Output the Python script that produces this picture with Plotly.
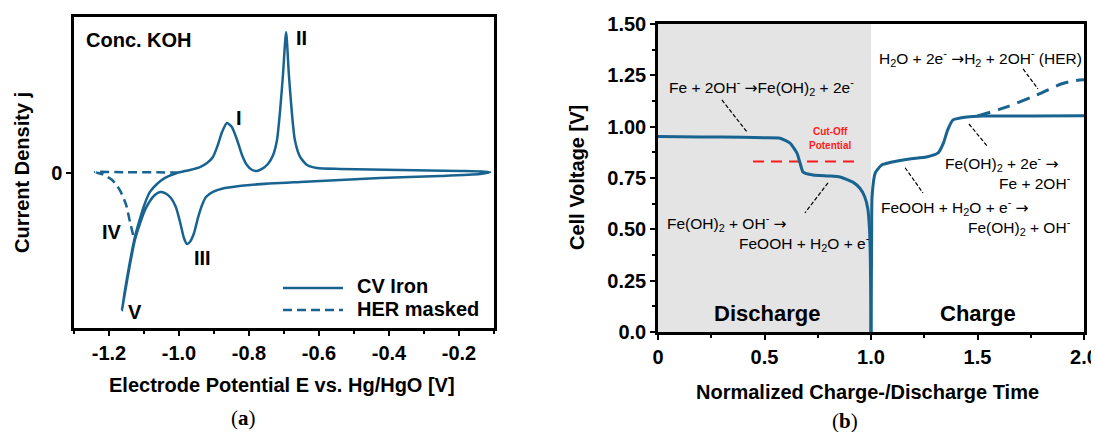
import plotly.graph_objects as go

# ---------------- (a) cyclic voltammogram ----------------
# closed loop: anodic branch from V to the right tip, cathodic branch back to V
cv_potential = [-1.163, -1.146, -1.126, -1.111, -1.097, -1.083, -1.063, -1.040, -1.006,
                -0.969, -0.940, -0.920, -0.903, -0.889, -0.877, -0.863, -0.849, -0.834,
                -0.820, -0.806, -0.791, -0.777, -0.763, -0.746, -0.731, -0.720, -0.711,
                -0.703, -0.694, -0.686, -0.677, -0.669, -0.654, -0.634, -0.606, -0.540,
                -0.369, -0.197, -0.111,
                -0.140, -0.254, -0.426, -0.654, -0.797, -0.869, -0.903, -0.923, -0.934,
                -0.946, -0.957, -0.969, -0.977, -0.986, -0.997, -1.009, -1.023, -1.040,
                -1.054, -1.069, -1.083, -1.097, -1.111, -1.126, -1.143, -1.163]
cv_current = [-0.884, -0.646, -0.415, -0.293, -0.196, -0.125, -0.074, -0.035, -0.003,
              0.016, 0.035, 0.061, 0.100, 0.177, 0.260, 0.318, 0.293, 0.209,
              0.113, 0.048, 0.016, 0.010, 0.023, 0.055, 0.113, 0.209, 0.402,
              0.627, 0.904, 0.627, 0.370, 0.209, 0.100, 0.048, 0.029, 0.023,
              0.016, 0.010, 0.003,
              -0.010, -0.023, -0.035, -0.061, -0.080, -0.100, -0.125, -0.158, -0.209,
              -0.293, -0.389, -0.447, -0.460, -0.421, -0.318, -0.222, -0.164, -0.132,
              -0.125, -0.145, -0.183, -0.241, -0.325, -0.434, -0.627, -0.884]

her_potential = [-1.131, -1.140, -1.151, -1.169, -1.191, -1.220, -1.240, -1.150, -1.060, -1.006]
her_current = [-0.402, -0.318, -0.209, -0.113, -0.048, -0.010, 0.003, 0.002, 0.001, 0.0]

cv_xticks = [-1.2, -1.0, -0.8, -0.6, -0.4, -0.2]

# ---------------- (b) charge / discharge ----------------
discharge_time = [0.0, 0.2, 0.4, 0.5, 0.573, 0.62, 0.652, 0.667, 0.681, 0.728, 0.80,
                  0.854, 0.915, 0.948, 0.970, 0.985, 0.993, 0.997, 0.999, 1.0]
discharge_voltage = [0.952, 0.950, 0.948, 0.946, 0.944, 0.92, 0.872, 0.823, 0.779, 0.765,
                     0.760, 0.755, 0.73, 0.70, 0.66, 0.60, 0.50, 0.35, 0.15, 0.0]

charge_time = [1.0, 1.003, 1.005, 1.02, 1.05, 1.10, 1.18, 1.26, 1.315, 1.34, 1.36, 1.385,
               1.45, 1.525, 1.75, 2.0]
charge_voltage = [0.0, 0.45, 0.66, 0.775, 0.813, 0.828, 0.843, 0.852, 0.872, 0.92, 0.984,
                  1.033, 1.047, 1.052, 1.052, 1.053]

her_time = [1.50, 1.62, 1.78, 1.90, 1.98, 2.0]
her_voltage = [1.052, 1.09, 1.155, 1.21, 1.227, 1.228]

cutoff_time = [0.446, 0.934]
cutoff_voltage = [0.83, 0.83]

discharge_region = [0.0, 1.0]
time_ticks = [0, 0.5, 1.0, 1.5, 2.0]
time_ticktext = ["0", "0.5", "1.0", "1.5", "2.0"]
volt_ticks = [0, 0.25, 0.5, 0.75, 1.0, 1.25, 1.5]
volt_ticktext = ["0.0", "0.25", "0.50", "0.75", "1.00", "1.25", "1.50"]

# leader lines (start, end) for the reaction labels
leaders = [
    ([0.30, 0.418], [1.13, 0.974]),
    ([0.798, 0.690], [0.726, 0.58]),
    ([1.714, 1.784], [1.281, 1.184]),
    ([1.46, 1.549], [1.013, 0.901]),
    ([1.16, 1.244], [0.80, 0.677]),
]

BLUE = "#18638f"
FONT = "Liberation Sans, Arial, sans-serif"
ARROW = '<span style="font-family:DejaVu Sans">→</span>'

# the page body has an 8px margin, so the figure is 8px smaller than the window
OFF = 8
W, H = 1099 - OFF, 432 - OFF


def px(x):
    return (x - OFF) / W


def py(y):
    return 1 - (y - OFF) / H


fig = go.Figure()

fig.add_trace(go.Scatter(x=cv_potential, y=cv_current, mode="lines", name="CV Iron",
                         line=dict(color=BLUE, width=2.5, shape="spline", smoothing=0.6),
                         xaxis="x", yaxis="y", showlegend=False))
fig.add_trace(go.Scatter(x=her_potential, y=her_current, mode="lines", name="HER masked",
                         line=dict(color=BLUE, width=2.5, dash="9px,5px", shape="spline",
                                   smoothing=0.6),
                         xaxis="x", yaxis="y", showlegend=False))

for lx, ly in leaders:
    fig.add_trace(go.Scatter(x=lx, y=ly, mode="lines", line=dict(color="black", width=1.2, dash="4px,2px"),
                             xaxis="x2", yaxis="y2", showlegend=False))

fig.add_trace(go.Scatter(x=cutoff_time, y=cutoff_voltage, mode="lines",
                         line=dict(color="#ff1a1a", width=2, dash="11px,7px"),
                         xaxis="x2", yaxis="y2", showlegend=False))
fig.add_trace(go.Scatter(x=her_time, y=her_voltage, mode="lines",
                         line=dict(color=BLUE, width=3, dash="13px,8px", shape="spline"),
                         xaxis="x2", yaxis="y2", showlegend=False))
fig.add_trace(go.Scatter(x=discharge_time, y=discharge_voltage, mode="lines",
                         line=dict(color=BLUE, width=3, shape="spline", smoothing=0.5),
                         xaxis="x2", yaxis="y2", showlegend=False))
fig.add_trace(go.Scatter(x=charge_time, y=charge_voltage, mode="lines",
                         line=dict(color=BLUE, width=3, shape="spline", smoothing=0.5),
                         xaxis="x2", yaxis="y2", showlegend=False))

# shaded discharge region
fig.add_shape(type="rect", xref="x2", yref="y2", x0=discharge_region[0], x1=discharge_region[1],
              y0=0, y1=1.5, fillcolor="#e4e4e4", line_width=0, layer="below")

axis_common = dict(showline=True, linecolor="black", linewidth=2.5, mirror=True,
                   ticks="outside", ticklen=5, tickwidth=2, tickcolor="black",
                   showgrid=False, zeroline=False, automargin=False,
                   tickfont=dict(family=FONT, size=20, color="black", weight="bold"))

fig.update_layout(
    width=W, height=H, autosize=False,
    margin=dict(l=0, r=0, t=0, b=0, pad=0, autoexpand=False),
    paper_bgcolor="white", plot_bgcolor="white",
    xaxis=dict(axis_common, domain=[px(74), px(494)], range=[-1.3, -0.1], anchor="y",
               tickvals=cv_xticks, ticktext=[f"{v:.1f}" for v in cv_xticks],
               minor=dict(ticks="outside", ticklen=3, tickwidth=2, tickcolor="black",
                          dtick=0.1, tick0=-1.3)),
    yaxis=dict(axis_common, domain=[py(328), py(17)], range=[-1, 1], anchor="x",
               tickvals=[0], ticktext=["0"]),
    xaxis2=dict(axis_common, domain=[px(658), px(1084)], range=[0, 2], anchor="y2",
                tickvals=time_ticks, ticktext=time_ticktext,
                minor=dict(ticks="outside", ticklen=3, tickwidth=2, tickcolor="black",
                           dtick=0.25, tick0=0)),
    yaxis2=dict(axis_common, domain=[py(332), py(24)], range=[0, 1.5], anchor="x2",
                tickvals=volt_ticks, ticktext=volt_ticktext,
                minor=dict(ticks="outside", ticklen=3, tickwidth=2, tickcolor="black",
                           dtick=0.125, tick0=0)),
)

bold20 = dict(family=FONT, size=20, color="black", weight="bold")
ann = []

# panel (a) labels
ann.append(dict(x=-1.271, y=0.852, xref="x", yref="y", text="Conc. KOH", xanchor="left", font=bold20))
ann.append(dict(x=-0.829, y=0.35, xref="x", yref="y", text="I", font=bold20))
ann.append(dict(x=-0.651, y=0.865, xref="x", yref="y", text="II", font=bold20))
ann.append(dict(x=-0.934, y=-0.55, xref="x", yref="y", text="III", font=bold20))
ann.append(dict(x=-1.191, y=-0.383, xref="x", yref="y", text="IV", font=bold20))
ann.append(dict(x=-1.126, y=-0.897, xref="x", yref="y", text="V", font=bold20))

# legend for panel (a)
fig.add_shape(type="line", xref="paper", yref="paper", x0=px(283), x1=px(343),
              y0=py(288), y1=py(288), line=dict(color=BLUE, width=2.5))
fig.add_shape(type="line", xref="paper", yref="paper", x0=px(283), x1=px(343),
              y0=py(310), y1=py(310), line=dict(color=BLUE, width=2.5, dash="9px,5px"))
ann.append(dict(x=px(355), y=py(286), xref="paper", yref="paper", text="CV Iron",
                xanchor="left", font=bold20))
ann.append(dict(x=px(355), y=py(309), xref="paper", yref="paper", text="HER masked",
                xanchor="left", font=bold20))

# axis titles and panel letters
ann.append(dict(x=px(282), y=py(385), xref="paper", yref="paper",
                text="Electrode Potential E vs. Hg/HgO [V]", font=bold20))
ann.append(dict(x=px(22), y=py(173), xref="paper", yref="paper",
                text="Current Density j", textangle=-90, font=bold20))
ann.append(dict(x=px(867), y=py(392), xref="paper", yref="paper",
                text="Normalized Charge-/Discharge Time", font=bold20))
ann.append(dict(x=px(577), y=py(178), xref="paper", yref="paper",
                text="Cell Voltage [V]", textangle=-90, font=bold20))
serif = dict(family="Liberation Serif, Times New Roman, serif", size=21, color="black")
ann.append(dict(x=px(243), y=py(418), xref="paper", yref="paper", text="(<b>a</b>)", font=serif))
ann.append(dict(x=px(845), y=py(421), xref="paper", yref="paper", text="(<b>b</b>)", font=serif))

# panel (b) reaction labels
rx = dict(family=FONT, size=15.5, color="black")
reactions = [
    (0.042, 1.193, "left", f"Fe + 2OH<sup>-</sup> {ARROW}Fe(OH)<sub>2</sub> + 2e<sup>-</sup>"),
    (1.028, 1.335, "left", f"H<sub>2</sub>O + 2e<sup>-</sup> {ARROW}H<sub>2</sub> + 2OH<sup>-</sup> (HER)"),
    (1.338, 0.823, "left", f"Fe(OH)<sub>2</sub> + 2e<sup>-</sup> {ARROW}"),
    (1.948, 0.730, "right", "Fe + 2OH<sup>-</sup>"),
    (1.038, 0.609, "left", f"FeOOH + H<sub>2</sub>O + e<sup>-</sup> {ARROW}"),
    (1.948, 0.511, "right", "Fe(OH)<sub>2</sub> + OH<sup>-</sup>"),
    (0.033, 0.531, "left", f"Fe(OH)<sub>2</sub> + OH<sup>-</sup> {ARROW}"),
    (0.371, 0.433, "left", "FeOOH + H<sub>2</sub>O + e<sup>-</sup>"),
]
for x, y, anchor, text in reactions:
    ann.append(dict(x=x, y=y, xref="x2", yref="y2", text=text, xanchor=anchor, font=rx))

red = dict(family=FONT, size=10, color="#ff1a1a", weight="bold")
ann.append(dict(x=0.808, y=0.975, xref="x2", yref="y2", text="Cut-Off", font=red))
ann.append(dict(x=0.808, y=0.906, xref="x2", yref="y2", text="Potential", font=red))

big = dict(family=FONT, size=22, color="black", weight="bold")
ann.append(dict(x=0.51, y=0.092, xref="x2", yref="y2", text="Discharge", font=big))
ann.append(dict(x=1.5, y=0.092, xref="x2", yref="y2", text="Charge", font=big))

for a in ann:
    a.setdefault("showarrow", False)
    a.setdefault("yanchor", "middle")
    a.setdefault("xanchor", "center")
fig.update_layout(annotations=ann)

fig.write_html("out.html")
